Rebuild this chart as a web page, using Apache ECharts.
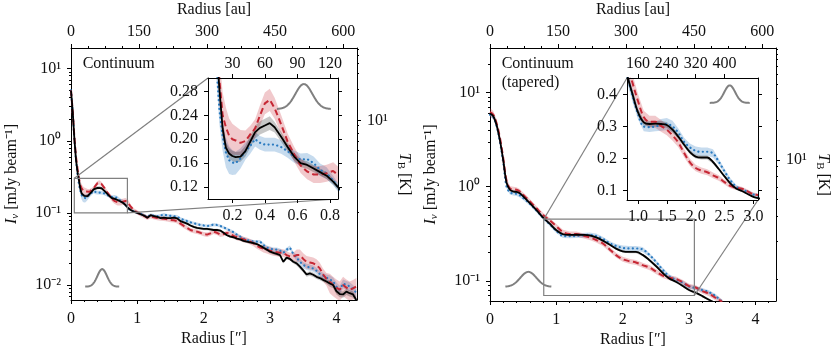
<!DOCTYPE html>
<html>
<head>
<meta charset="utf-8">
<script src="https://cdn.jsdelivr.net/npm/echarts@6/dist/echarts.min.js"></script>
<style>
  html, body { margin: 0; padding: 0; background: #fff; }
  #chart { width: 831px; height: 352px; }
</style>
</head>
<body>
<div id="chart"></div>
<script>
// ---- data: left panel (Continuum) ----
const xL = [0, 0.025, 0.05, 0.075, 0.1, 0.12, 0.14, 0.16, 0.18, 0.2, 0.22, 0.25, 0.28, 0.31, 0.34, 0.37, 0.4, 0.43, 0.46,
  0.5, 0.54, 0.58, 0.62, 0.66, 0.7, 0.74, 0.78, 0.82, 0.86,
  0.9, 0.95, 1.0, 1.05, 1.1, 1.15, 1.2, 1.25, 1.3, 1.35,
  1.4, 1.45, 1.5, 1.55, 1.6, 1.65, 1.7, 1.75, 1.8, 1.85,
  1.9, 1.95, 2.0, 2.05, 2.1, 2.15, 2.2, 2.25, 2.3, 2.35,
  2.4, 2.45, 2.5, 2.55, 2.6, 2.65, 2.7, 2.75, 2.8, 2.85,
  2.9, 2.95, 3.0, 3.05, 3.1, 3.15, 3.2, 3.25, 3.3, 3.35,
  3.4, 3.45, 3.5, 3.55, 3.6, 3.65, 3.7, 3.75, 3.8, 3.85,
  3.9, 3.95, 4.0, 4.05, 4.1, 4.15, 4.2, 4.25, 4.3];

const blackL = [5.0, 2.6, 1.1, 0.55, 0.36, 0.285, 0.218, 0.186, 0.176, 0.172, 0.170, 0.171, 0.180, 0.196, 0.212,
  0.219, 0.223, 0.227, 0.220, 0.204, 0.187, 0.171, 0.160, 0.157, 0.151, 0.145, 0.139, 0.129, 0.117,
  0.110, 0.104, 0.100, 0.096, 0.092, 0.086, 0.093, 0.090, 0.088, 0.085,
  0.086, 0.085, 0.085, 0.086, 0.084, 0.077, 0.074, 0.071, 0.067, 0.064,
  0.062, 0.061, 0.060, 0.060, 0.059, 0.058, 0.058, 0.057, 0.053, 0.049,
  0.047, 0.046, 0.044, 0.043, 0.041, 0.040, 0.039, 0.038, 0.037, 0.035,
  0.033, 0.031, 0.029, 0.028, 0.027, 0.026, 0.021, 0.024, 0.023, 0.021,
  0.020, 0.018, 0.016, 0.014, 0.0145, 0.0139, 0.013, 0.0125, 0.0118, 0.0112,
  0.0105, 0.010, 0.0082, 0.0075, 0.0074, 0.0081, 0.0077, 0.0074, 0.0062];

const blueL = [5.0, 2.6, 1.1, 0.55, 0.33, 0.25, 0.205, 0.178, 0.165, 0.161, 0.160, 0.168, 0.180, 0.189, 0.200,
  0.194, 0.191, 0.191, 0.191, 0.187, 0.180, 0.171, 0.166, 0.167, 0.160, 0.149, 0.143, 0.131, 0.116,
  0.110, 0.104, 0.101, 0.097, 0.093, 0.088, 0.094, 0.091, 0.090, 0.092,
  0.095, 0.092, 0.091, 0.090, 0.089, 0.083, 0.080, 0.077, 0.074, 0.072,
  0.070, 0.068, 0.067, 0.066, 0.067, 0.069, 0.068, 0.066, 0.063, 0.060,
  0.057, 0.054, 0.050, 0.047, 0.044, 0.042, 0.041, 0.040, 0.040, 0.040,
  0.036, 0.033, 0.032, 0.031, 0.031, 0.030, 0.028, 0.031, 0.033, 0.027,
  0.024, 0.021, 0.019, 0.018, 0.0175, 0.017, 0.0158, 0.0142, 0.0135, 0.0127,
  0.012, 0.0112, 0.0095, 0.0086, 0.0105, 0.0100, 0.0096, 0.0088, 0.0078];

const redL = [5.0, 2.6, 1.15, 0.6, 0.40, 0.30, 0.240, 0.220, 0.206, 0.200, 0.198, 0.194, 0.197, 0.208, 0.218,
  0.240, 0.260, 0.266, 0.252, 0.225, 0.196, 0.175, 0.156, 0.146, 0.141, 0.141, 0.143, 0.147, 0.138,
  0.122, 0.108, 0.102, 0.096, 0.091, 0.086, 0.090, 0.087, 0.085, 0.084,
  0.083, 0.082, 0.080, 0.079, 0.077, 0.071, 0.066, 0.062, 0.058, 0.056,
  0.055, 0.053, 0.051, 0.050, 0.052, 0.055, 0.053, 0.050, 0.051, 0.053,
  0.051, 0.048, 0.046, 0.045, 0.043, 0.042, 0.040, 0.038, 0.035, 0.033,
  0.032, 0.031, 0.030, 0.029, 0.0285, 0.028, 0.028, 0.026, 0.025, 0.025,
  0.026, 0.026, 0.023, 0.021, 0.0205, 0.020, 0.019, 0.017, 0.014, 0.0122,
  0.011, 0.010, 0.0092, 0.0086, 0.010, 0.0092, 0.0086, 0.009, 0.0096];

// relative half-width of the shaded uncertainty bands
const blackErrL = [0.05, 0.05, 0.05, 0.05, 0.05, 0.06, 0.06, 0.05, 0.05, 0.05, 0.05, 0.05, 0.05, 0.05, 0.05,
  0.05, 0.05, 0.05, 0.04, 0.04, 0.04, 0.04, 0.04, 0.04, 0.04, 0.04, 0.04, 0.04, 0.04,
  0.04, 0.04, 0.04, 0.04, 0.04, 0.04, 0.04, 0.04, 0.04, 0.04,
  0.04, 0.04, 0.04, 0.04, 0.04, 0.04, 0.04, 0.04, 0.04, 0.04,
  0.04, 0.04, 0.04, 0.04, 0.04, 0.04, 0.04, 0.04, 0.04, 0.04,
  0.04, 0.04, 0.04, 0.04, 0.04, 0.04, 0.04, 0.04, 0.04, 0.04,
  0.05, 0.05, 0.05, 0.05, 0.05, 0.05, 0.05, 0.05, 0.05, 0.05,
  0.07, 0.07, 0.07, 0.07, 0.07, 0.07, 0.07, 0.07, 0.07, 0.07,
  0.10, 0.10, 0.10, 0.10, 0.10, 0.10, 0.10, 0.10, 0.10];
const blueErrL = [0.05, 0.05, 0.05, 0.05, 0.06, 0.10, 0.12, 0.14, 0.14, 0.13, 0.12, 0.10, 0.08, 0.07, 0.06,
  0.06, 0.06, 0.06, 0.06, 0.06, 0.06, 0.06, 0.06, 0.06, 0.07, 0.07, 0.07, 0.06, 0.06,
  0.05, 0.05, 0.05, 0.05, 0.05, 0.05, 0.05, 0.05, 0.05, 0.05,
  0.05, 0.05, 0.05, 0.05, 0.05, 0.05, 0.05, 0.05, 0.05, 0.05,
  0.05, 0.05, 0.05, 0.05, 0.05, 0.05, 0.05, 0.05, 0.05, 0.05,
  0.05, 0.05, 0.05, 0.05, 0.05, 0.05, 0.05, 0.05, 0.05, 0.05,
  0.07, 0.07, 0.07, 0.07, 0.07, 0.07, 0.07, 0.07, 0.07, 0.07,
  0.10, 0.10, 0.10, 0.10, 0.10, 0.10, 0.10, 0.10, 0.10, 0.10,
  0.14, 0.14, 0.14, 0.14, 0.14, 0.14, 0.14, 0.14, 0.14];
const redErrL = [0.06, 0.06, 0.06, 0.06, 0.08, 0.14, 0.16, 0.15, 0.14, 0.13, 0.12, 0.11, 0.09, 0.07, 0.07,
  0.07, 0.07, 0.07, 0.07, 0.07, 0.07, 0.07, 0.08, 0.09, 0.10, 0.10, 0.10, 0.10, 0.10,
  0.07, 0.07, 0.07, 0.07, 0.07, 0.07, 0.07, 0.07, 0.07, 0.07,
  0.07, 0.07, 0.07, 0.07, 0.07, 0.07, 0.07, 0.07, 0.07, 0.07,
  0.07, 0.07, 0.07, 0.07, 0.07, 0.07, 0.07, 0.07, 0.07, 0.07,
  0.09, 0.09, 0.09, 0.09, 0.09, 0.09, 0.09, 0.09, 0.09, 0.09,
  0.12, 0.12, 0.12, 0.12, 0.12, 0.12, 0.12, 0.12, 0.12, 0.12,
  0.20, 0.20, 0.20, 0.20, 0.20, 0.20, 0.20, 0.20, 0.20, 0.20,
  0.30, 0.30, 0.30, 0.30, 0.30, 0.30, 0.30, 0.30, 0.30];

// ---- data: right panel (Continuum, tapered) ----
const xR = [0, 0.05, 0.1, 0.15, 0.2, 0.25, 0.3, 0.35, 0.4, 0.45, 0.5, 0.55, 0.6,
  0.7, 0.8, 0.9, 1.0, 1.1, 1.2, 1.3, 1.4, 1.5, 1.6, 1.7, 1.8, 1.9, 2.0, 2.1, 2.2, 2.3, 2.4,
  2.5, 2.6, 2.7, 2.8, 2.9, 3.0, 3.1, 3.2, 3.3, 3.4, 3.5];
const blackR = [6.0, 5.6, 4.5, 3.1, 1.9, 1.1, 0.93, 0.89, 0.88, 0.85, 0.79, 0.73, 0.67,
  0.565, 0.47, 0.405, 0.345, 0.313, 0.308, 0.309, 0.308, 0.305, 0.290, 0.268, 0.243, 0.220, 0.206, 0.203, 0.203, 0.189, 0.167,
  0.144, 0.122, 0.106, 0.098, 0.089, 0.080, 0.075, 0.069, 0.063, 0.058, 0.053];
const blueR = [5.8, 5.5, 4.4, 3.0, 1.8, 1.0, 0.87, 0.85, 0.84, 0.81, 0.76, 0.71, 0.66,
  0.56, 0.47, 0.40, 0.34, 0.300, 0.298, 0.300, 0.305, 0.308, 0.300, 0.280, 0.252, 0.235, 0.224, 0.221, 0.221, 0.216, 0.190,
  0.160, 0.132, 0.112, 0.103, 0.096, 0.087, 0.084, 0.080, 0.076, 0.069, 0.060];
const redR = [6.2, 5.8, 4.7, 3.3, 2.0, 1.15, 0.96, 0.94, 0.93, 0.89, 0.82, 0.76, 0.70,
  0.59, 0.50, 0.44, 0.38, 0.33, 0.315, 0.315, 0.302, 0.290, 0.272, 0.250, 0.217, 0.188, 0.170, 0.162, 0.157, 0.147, 0.139,
  0.126, 0.114, 0.108, 0.105, 0.097, 0.088, 0.085, 0.078, 0.073, 0.066, 0.060];
const blackErrR = [0.03, 0.03, 0.03, 0.03, 0.03, 0.03, 0.03, 0.03, 0.03, 0.03, 0.03, 0.03, 0.03,
  0.03, 0.03, 0.03, 0.03, 0.03, 0.03, 0.03, 0.03, 0.03, 0.03, 0.03, 0.03, 0.03, 0.03, 0.03, 0.03, 0.03, 0.03,
  0.03, 0.03, 0.03, 0.03, 0.03, 0.03, 0.03, 0.03, 0.03, 0.03, 0.03];
const blueErrR = [0.05, 0.05, 0.05, 0.05, 0.05, 0.05, 0.05, 0.05, 0.05, 0.05, 0.05, 0.05, 0.05,
  0.05, 0.05, 0.05, 0.05, 0.05, 0.05, 0.05, 0.06, 0.06, 0.06, 0.05, 0.05, 0.05, 0.06, 0.06, 0.06, 0.06, 0.05,
  0.05, 0.05, 0.05, 0.05, 0.05, 0.05, 0.05, 0.05, 0.05, 0.05, 0.05];
const redErrR = [0.10, 0.10, 0.10, 0.10, 0.10, 0.08, 0.06, 0.06, 0.06, 0.06, 0.06, 0.06, 0.06,
  0.06, 0.06, 0.06, 0.06, 0.06, 0.06, 0.06, 0.06, 0.06, 0.06, 0.06, 0.06, 0.06, 0.06, 0.06, 0.06, 0.06, 0.06,
  0.06, 0.06, 0.06, 0.06, 0.06, 0.06, 0.06, 0.06, 0.06, 0.06, 0.06];

// ---- tick labels ----
const xMajor = [0, 1, 2, 3, 4];
const auMajor = [0, 150, 300, 450, 600];
const insetTicksL = [0.2, 0.4, 0.6, 0.8];
const insetAuL = [30, 60, 90, 120];
const insetYL = [0.12, 0.16, 0.20, 0.24, 0.28];
const insetTicksR = [1.0, 1.5, 2.0, 2.5, 3.0];
const insetTopPosR = [1.0, 1.5, 2.0, 2.5];
const insetAuR = [160, 240, 320, 400];
const insetYR = [0.1, 0.2, 0.3, 0.4];
// brightness temperature axis, positions in mJy/beam (10 K major, 2..9 K and 20..90 K minor)
const tbMajor = [1.915];
const tbMinor = [0.0225, 0.103, 0.266, 0.483, 0.733, 0.99, 1.285, 1.63, 5.14, 8.6, 12.1, 15.5, 18.9, 22.3, 25.2, 28.5];

// ---- layout / style ----
const AU = 146.3;           // au per arcsec
const X_MAX = 4.31;
const FONT = 'Liberation Serif';
const TXT = '#111';
const BLUE = '#2b7bc0', RED = '#c62835';
const grids = [
  { left: 71, top: 48, width: 286, height: 252 },
  { left: 208, top: 78, width: 130, height: 121 },
  { left: 490, top: 48, width: 286, height: 253 },
  { left: 627, top: 78, width: 131, height: 122 }
];
const rangeInsetL = { x: [0.05, 0.85], y: [0.1, 0.3025] };
const rangeInsetR = { x: [0.81, 3.08], y: [0.07, 0.452] };

const RICH = {
  i: { fontFamily: FONT, fontSize: 16, fontStyle: 'italic', color: TXT },
  si: { fontFamily: FONT, fontSize: 11, fontStyle: 'italic', color: TXT, padding: [7, 0, 0, 0] },
  s: { fontFamily: FONT, fontSize: 11, color: TXT, padding: [7, 0, 0, 0] }
};

const SUP = { '-': '⁻', '0': '⁰', '1': '¹', '2': '²', '3': '³' };
function pow10(v) {
  const e = Math.round(Math.log10(v));
  return '10' + String(e).split('').map(c => SUP[c]).join('');
}
function pick(pos, labels) {
  return function (v) {
    for (let i = 0; i < pos.length; i++) if (Math.abs(pos[i] - v) < 1e-6) return String(labels[i]);
    return '';
  };
}

const xAxes = [], yAxes = [];
function axis(dim, grid, pos, min, max, o) {
  const a = {
    type: o.log ? 'log' : 'value', gridIndex: grid, position: pos, min: min, max: max,
    z: o.z || 0,
    axisLine: { show: !!o.line, onZero: false, lineStyle: { color: '#000', width: 1 } },
    axisTick: { show: !!o.ticks, inside: false, length: o.tickLen || 4, lineStyle: { color: '#000', width: 1 } },
    axisLabel: { show: !!o.labels, margin: o.margin || 8, fontFamily: FONT, fontSize: 16, color: TXT },
    splitLine: { show: false },
    minorTick: { show: false },
    axisPointer: { show: false },
    nameMoveOverlap: false
  };
  if (o.log) a.logBase = 10;
  if (o.ticks) a.axisTick.customValues = o.ticks.filter(v => v >= min && v <= max);
  if (o.labels) { a.axisLabel.customValues = o.labels; a.axisLabel.formatter = o.fmt; }
  if (o.name) {
    a.name = o.name;
    a.nameLocation = 'middle';
    a.nameGap = o.nameGap;
    if (o.nameRotate !== undefined) a.nameRotate = o.nameRotate;
    a.nameTextStyle = { fontFamily: FONT, fontSize: 16, color: TXT, rich: RICH };
  }
  const list = dim === 'x' ? xAxes : yAxes;
  list.push(a);
  return list.length - 1;
}

function logMinor(min, max) {
  const out = [];
  for (let e = -3; e <= 2; e++) for (let m = 2; m <= 9; m++) {
    const v = m * Math.pow(10, e);
    if (v >= min && v <= max) out.push(v);
  }
  return out;
}
const xMinor = [], auMinor = [];
for (let i = 1; i * 0.2 < X_MAX; i++) if (i % 5) xMinor.push(+(i * 0.2).toFixed(2));
for (let i = 1; i * 37.5 < X_MAX * AU; i++) if (i % 4) auMinor.push(i * 37.5);

function mainPanel(g, yMin, yMax, yTicks) {
  const xb = axis('x', g, 'bottom', 0, X_MAX, { line: true, ticks: xMajor, labels: xMajor, margin: 11,
    fmt: v => String(Math.round(v)), name: 'Radius [″]', nameGap: 31 });
  axis('x', g, 'bottom', 0, X_MAX, { ticks: xMinor, tickLen: 2 });
  axis('x', g, 'top', 0, X_MAX * AU, { line: true, ticks: auMajor, labels: auMajor, margin: 8,
    fmt: v => String(Math.round(v)), name: 'Radius [au]', nameGap: 30 });
  axis('x', g, 'top', 0, X_MAX * AU, { ticks: auMinor, tickLen: 2 });
  const yl = axis('y', g, 'left', yMin, yMax, { log: true, line: true, ticks: yTicks, labels: yTicks, margin: 10,
    fmt: pow10, name: '{i|I}{si|ν} [mJy beam⁻¹]', nameGap: 50, nameRotate: 90 });
  axis('y', g, 'left', yMin, yMax, { log: true, ticks: logMinor(yMin, yMax), tickLen: 2 });
  axis('y', g, 'right', yMin, yMax, { log: true, line: true, ticks: tbMajor, labels: tbMajor, margin: 10,
    fmt: () => '10¹', name: '{i|T}{s|B} [K]', nameGap: 38, nameRotate: -90 });
  axis('y', g, 'right', yMin, yMax, { log: true, ticks: tbMinor, tickLen: 2 });
  return { x: xb, y: yl };
}

function insetPanel(g, r, xt, xfmt, topPos, topLab, yt, yfmt) {
  const xb = axis('x', g, 'bottom', r.x[0], r.x[1], { line: true, ticks: xt, labels: xt, fmt: xfmt, margin: 9, z: 15 });
  axis('x', g, 'top', r.x[0], r.x[1], { line: true, ticks: topPos, labels: topPos, fmt: pick(topPos, topLab), margin: 6, z: 15 });
  const yl = axis('y', g, 'left', r.y[0], r.y[1], { line: true, ticks: yt, labels: yt, fmt: yfmt, margin: 10, z: 15 });
  axis('y', g, 'right', r.y[0], r.y[1], { line: true, ticks: yt, z: 15 });
  return { x: xb, y: yl };
}

const mL = mainPanel(0, 0.0062, 19.4, [0.01, 0.1, 1, 10]);
const iL = insetPanel(1, rangeInsetL, insetTicksL, v => v.toFixed(1), insetTicksL, insetAuL, insetYL, v => v.toFixed(2));
const mR = mainPanel(2, 0.0612, 29.7, [0.1, 1, 10]);
const iR = insetPanel(3, rangeInsetR, insetTicksR, v => v.toFixed(1), insetTopPosR, insetAuR, insetYR, v => v.toFixed(1));

function band(ax, xs, ys, err, color, z) {
  return {
    type: 'custom', xAxisIndex: ax.x, yAxisIndex: ax.y, z: z, silent: true, animation: false,
    data: xs.map((x, i) => [x, ys[i]]),
    renderItem: function (params, api) {
      if (params.dataIndex !== 0) return null;
      const up = [], lo = [];
      for (let i = 0; i < xs.length; i++) {
        up.push(api.coord([xs[i], ys[i] * (1 + err[i])]));
        lo.push(api.coord([xs[i], ys[i] * (1 - err[i])]));
      }
      const cs = params.coordSys;
      return {
        type: 'polygon', shape: { points: up.concat(lo.reverse()) }, style: { fill: color },
        clipPath: { type: 'rect', shape: { x: cs.x, y: cs.y, width: cs.width, height: cs.height } }
      };
    }
  };
}
function line(ax, xs, ys, style, z, smooth) {
  return {
    type: 'line', xAxisIndex: ax.x, yAxisIndex: ax.y, z: z, silent: true, animation: false,
    showSymbol: false, symbol: 'none', smooth: smooth ? 0.35 : false, clip: true,
    data: xs.map((x, i) => [x, ys[i]]), lineStyle: style
  };
}
const sBlack = { color: '#000', width: 1.8 };
const sBlue = { color: BLUE, width: 2.2, type: [0.1, 4.3], cap: 'round' };
const sRed = { color: RED, width: 2, type: [6, 3.5] };

function panelSeries(ax, xs, k, b, r, ek, eb, er, zb, smooth) {
  return [
    band(ax, xs, b, eb, 'rgba(43,123,192,0.27)', zb),
    band(ax, xs, r, er, 'rgba(198,40,53,0.25)', zb),
    band(ax, xs, k, ek, 'rgba(0,0,0,0.22)', zb),
    line(ax, xs, b, sBlue, zb + 1, smooth),
    line(ax, xs, r, sRed, zb + 1, smooth),
    line(ax, xs, k, sBlack, zb + 2, smooth)
  ];
}

const series = [].concat(
  panelSeries(mL, xL, blackL, blueL, redL, blackErrL, blueErrL, redErrL, 1, false),
  panelSeries(iL, xL, blackL, blueL, redL, blackErrL, blueErrL, redErrL, 11, false),
  panelSeries(mR, xR, blackR, blueR, redR, blackErrR, blueErrR, redErrR, 1, true),
  panelSeries(iR, xR, blackR, blueR, redR, blackErrR, blueErrR, redErrR, 11, true)
);

const chart = echarts.init(document.getElementById('chart'), null, { renderer: 'canvas' });
chart.setOption({
  animation: false,
  backgroundColor: '#fff',
  grid: grids.map((g, i) => Object.assign({
    show: i % 2 === 1, backgroundColor: '#fff', borderWidth: 0, z: i % 2 === 1 ? 10 : 0,
    containLabel: false, outerBoundsMode: 'none'
  }, g)),
  xAxis: xAxes,
  yAxis: yAxes,
  series: series
});

// ---- annotations: zoom boxes, connectors, beams, labels ----
const P = (ax, pt) => chart.convertToPixel({ xAxisIndex: ax.x, yAxisIndex: ax.y }, pt);
const GREY = '#808080';
const gfx = [];
function zoomMarks(main, inset, r) {
  const a = P(main, [r.x[0], r.y[1]]), b = P(main, [r.x[1], r.y[0]]);
  const c = P(inset, [r.x[0], r.y[1]]), d = P(inset, [r.x[1], r.y[0]]);
  gfx.push({ type: 'rect', z: 5, silent: true, shape: { x: a[0], y: a[1], width: b[0] - a[0], height: b[1] - a[1] },
    style: { fill: null, stroke: GREY, lineWidth: 1.2 } });
  gfx.push({ type: 'line', z: 5, silent: true, shape: { x1: a[0], y1: a[1], x2: c[0], y2: c[1] }, style: { stroke: GREY, lineWidth: 1.2 } });
  gfx.push({ type: 'line', z: 5, silent: true, shape: { x1: b[0], y1: b[1], x2: d[0], y2: d[1] }, style: { stroke: GREY, lineWidth: 1.2 } });
}
zoomMarks(mL, iL, rangeInsetL);
zoomMarks(mR, iR, rangeInsetR);

// beam profile glyphs: [anchor (data coords), half width px, height px, sigma px]
function beam(ax, anchor, halfW, h, sig) {
  const c = P(ax, anchor), pts = [];
  for (let dx = -halfW; dx <= halfW; dx += 0.5) pts.push([c[0] + dx, c[1] - h * Math.exp(-dx * dx / (2 * sig * sig))]);
  gfx.push({ type: 'polyline', z: 16, silent: true, shape: { points: pts }, style: { stroke: GREY, lineWidth: 2, fill: null } });
}
beam(mL, [0.47, 0.0095], 17, 17.5, 4.8);
beam(iL, [0.64, 0.2505], 27, 25, 8.5);
beam(mR, [0.578, 0.0865], 23, 15, 8);
beam(iR, [2.59, 0.374], 20, 17.5, 5.5);

const font = '16px "' + FONT + '"';
gfx.push({ type: 'text', z: 6, silent: true, style: { text: 'Continuum', x: 82.7, y: 64, font: font, fill: TXT, verticalAlign: 'middle' } });
gfx.push({ type: 'text', z: 6, silent: true, style: { text: 'Continuum', x: 501.7, y: 64, font: font, fill: TXT, verticalAlign: 'middle' } });
gfx.push({ type: 'text', z: 6, silent: true, style: { text: '(tapered)', x: 501.7, y: 82.7, font: font, fill: TXT, verticalAlign: 'middle' } });

chart.setOption({ graphic: gfx });
</script>
</body>
</html>
